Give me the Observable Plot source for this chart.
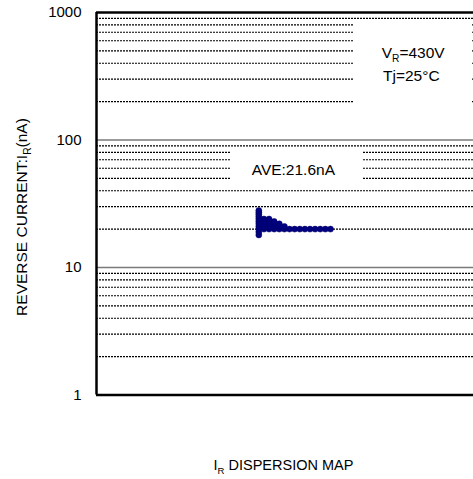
<!DOCTYPE html>
<html><head><meta charset="utf-8">
<script src="https://cdn.jsdelivr.net/npm/d3@7"></script>
<script src="https://cdn.jsdelivr.net/npm/@observablehq/plot@0.6"></script>
<style>
body{margin:0;background:#fff;}
#chart svg{display:block;}
</style>
</head><body><div id="chart"></div>
<script>
// ---- data ----
const yTicks = [1, 10, 100, 1000];
const majorGrid = [10, 100];
const minorGrid = [2,3,4,5,6,7,8,9,20,30,40,50,60,70,80,90,200,300,400,500,600,700,800,900];
// measured reverse current bins (nA) and number of devices in each bin
const binValues = [18, 19, 20, 21, 22, 23, 24, 25, 26, 27, 28];
const binCounts = [1, 1, 15, 6, 5, 4, 3, 1, 1, 1, 1];
const aveLabel = "AVE:21.6nA";
const condVr = ["V", "R", "=430V"];
const condTj = "Tj=25°C";
const xLabel = ["I", "R", " DISPERSION MAP"];
const yLabel = ["REVERSE CURRENT:I", "R", "(nA)"];

// one dot per device, stacked sideways within its bin
const dots = binValues.flatMap((v, k) => d3.range(binCounts[k]).map(i => ({value: v, col: i})));

const FONT = "'Liberation Sans', Arial, Helvetica, sans-serif";
const W = 473, H = 479;
const xDom = [-31.7, 41.93];

const plot = Plot.plot({
  width: W, height: H,
  marginLeft: 96, marginRight: 0, marginTop: 12, marginBottom: 84.5,
  style: {fontFamily: FONT, background: "#fff", color: "#000"},
  x: {domain: xDom, axis: null},
  y: {type: "log", domain: [1, 1000], axis: null},
  marks: [
    Plot.ruleY(majorGrid, {stroke: "#7a7a7a", strokeWidth: 1.3}),
    Plot.ruleY(minorGrid, {stroke: "#000", strokeWidth: 1.1, strokeDasharray: "2,1"}),
    // white label boxes (text boxes hide the grid behind them)
    Plot.rect([0], {x1: -5.53, x2: 20.25, y1: 46, y2: 86, fill: "#fff"}),
    Plot.rect([0], {x1: 18.69, x2: 41.74, y1: 190, y2: 860, fill: "#fff"}),
    Plot.axisY(yTicks, {tickSize: 0, tickPadding: 15, tickFormat: d => String(d), fontSize: 15, label: null}),
    Plot.ruleY([1, 1000], {stroke: "#000", strokeWidth: 2.5}),
    Plot.ruleX([xDom[0]], {stroke: "#000", strokeWidth: 2.5}),
    Plot.dot(dots, {x: "col", y: "value", r: 3, fill: "#000080", stroke: "#000060", strokeWidth: 0.5})
  ]
});
document.getElementById("chart").appendChild(plot);

const svg = d3.select(plot);
const xs = plot.scale("x"), ys = plot.scale("y");

function addText(x, y, parts, opts = {}) {
  const t = svg.append("text")
    .attr("x", x).attr("y", y)
    .attr("font-family", FONT)
    .attr("font-size", opts.size || 15)
    .attr("fill", "#000")
    .attr("text-anchor", opts.anchor || "start");
  if (opts.rotate) t.attr("transform", `rotate(${opts.rotate},${x},${y})`);
  if (typeof parts === "string") parts = [parts];
  parts.forEach((p, i) => {
    const ts = t.append("tspan").text(p);
    if (i % 2 === 1) {
      ts.attr("font-size", (opts.size || 15) * 0.66).attr("dy", 3.5);
    } else if (i > 0) {
      ts.attr("dy", -3.5);
    }
  });
  return t;
}

// annotations placed in data coordinates
addText(xs.apply(-1.29), ys.apply(52.7), aveLabel, {size: 15.5});
addText(xs.apply(24.1), ys.apply(433), condVr, {size: 15.5});
addText(xs.apply(24.35), ys.apply(287.6), condTj, {size: 15.5});

// axis titles
addText(283.5, 470, xLabel, {size: 14.5, anchor: "middle"});
addText(27, 217, yLabel, {size: 15.5, anchor: "middle", rotate: -90});
</script>
</body></html>
